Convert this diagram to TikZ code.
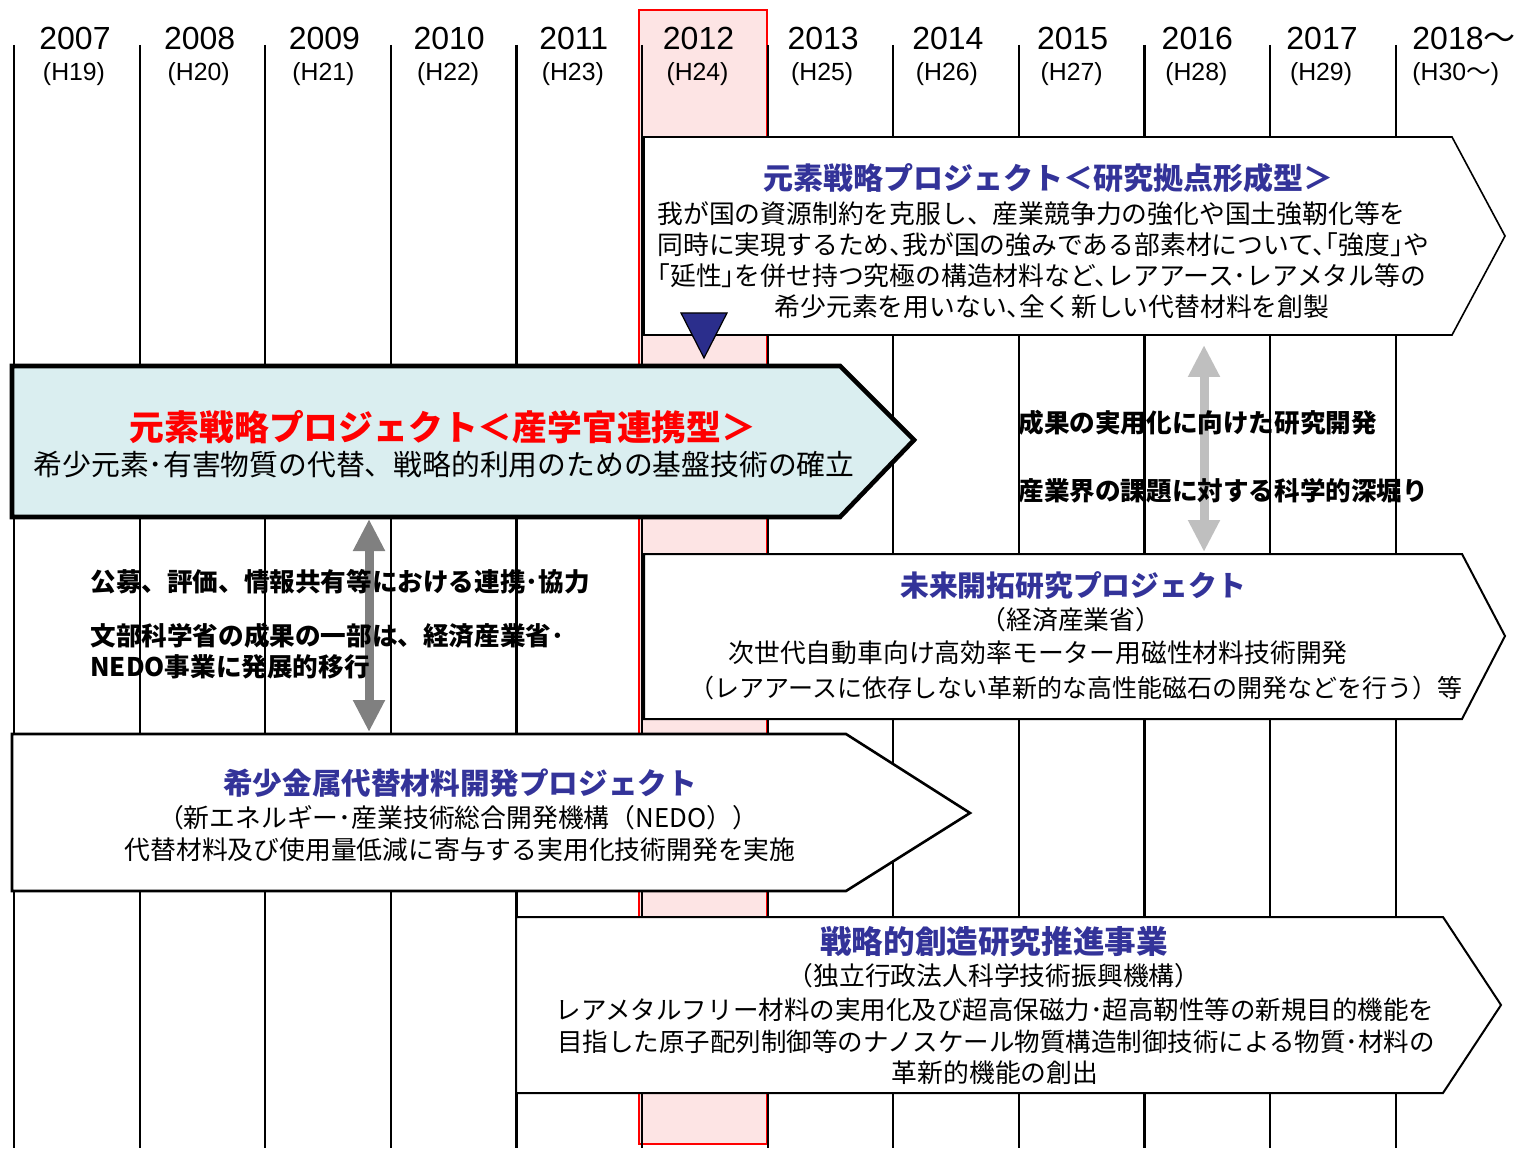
\documentclass[tikz,border=0pt]{standalone}
\usepackage{fontspec}
\setmainfont{Liberation Sans}
\newfontfamily\jp{Noto Sans CJK JP}
\newfontfamily\jph{Noto Sans CJK JP}[RawFeature=+halt]
\usetikzlibrary{arrows.meta}
\definecolor{ttlblue}{RGB}{51,51,153}
\definecolor{mainfill}{RGB}{218,238,240}
\definecolor{pinkfill}{RGB}{253,228,228}
\definecolor{navy}{RGB}{43,46,140}
\tikzset{
  every node/.style={inner sep=0pt},
  yr/.style={font=\fontsize{16}{18}\selectfont},
  hs/.style={font=\fontsize{12.4}{14}\selectfont},
  vline/.style={line width=1.1pt},
  pbox/.style={draw, fill=white, line width=0.8pt},
  ttl/.style={font=\jp\bfseries\fontsize{15}{18}\selectfont, text=ttlblue},
  txt/.style={font=\jp\fontsize{12.9}{15.5}\selectfont},
  btxt/.style={font=\jp\bfseries\fontsize{12.8}{15.5}\selectfont},
  darrow/.style={line width=4.5pt, {Triangle[width=15pt,length=16pt]}-{Triangle[width=15pt,length=16pt]}}
}
\begin{document}
\begin{tikzpicture}[x=0.5pt, y=-0.5pt]
\useasboundingbox (0,0) rectangle (1518,1154);
% 2012 column
\draw[red, line width=1pt, fill=pinkfill] (639,10) rectangle (767,1144);
% years
\foreach \n [count=\i from 0] in {2007,...,2017}{
  \pgfmathtruncatemacro{\h}{\n-1988}
  \node[yr] (Y_\i) at ({75+124.7*\i},38) {\n};
  \node[hs] (H_\i) at ({74+124.7*\i},74) {(H\h)};
}
\node[yr, anchor=west] (Y_11) at (1412,38) {2018{\jp ～}};
\node[hs, anchor=west] (H_11) at (1412,74) {(H30{\jp ～})};
\foreach \i in {0,...,11}
  \draw[vline] ({14+125.6*\i},45) -- ({14+125.6*\i},1148);

% research hub type
\draw[pbox] (644,137) -- (1452,137) -- (1505,236) -- (1452,335) -- (644,335) -- cycle;
\node[ttl] (T_1) at (1048,178) {元素戦略プロジェクト＜研究拠点形成型＞};
\node[txt, align=left, anchor=west] (B_1) at (657,245) {我が国の資源制約を克服し、産業競争力の強化や国土強靭化等を\\{\jph 同時に実現するため、我が国の強みである部素材について、「強度」や}\\{\jph 「延性」を併せ持つ究極の構造材料など、レアアース･レアメタル等の}};
\node[txt, font=\jph\fontsize{12.9}{15.5}\selectfont] (B_2) at (1052,307) {希少元素を用いない、全く新しい代替材料を創製};
\draw[fill=navy, line width=0.6pt] (681,313) -- (727,313) -- (704,358) -- cycle;

% industry-academia-government type
\draw[fill=mainfill, line width=2.3pt] (12,366) -- (840,366) -- (914,440) -- (840,517) -- (12,517) -- cycle;
\node[font=\jp\bfseries\fontsize{17.4}{20}\selectfont, text=red] (T_2) at (443,427) {元素戦略プロジェクト＜産学官連携型＞};
\node[font=\jp\fontsize{14.4}{17}\selectfont] (B_3) at (444,465) {希少元素･有害物質の代替、戦略的利用のための基盤技術の確立};

% METI
\draw[pbox, line width=1pt] (644,554) -- (1462,554) -- (1505,636) -- (1462,719) -- (644,719) -- cycle;
\node[ttl, font=\jp\bfseries\fontsize{14.4}{17}\selectfont] (T_3) at (1073,586) {未来開拓研究プロジェクト};
\node[txt] (B_4) at (1071,620) {（経済産業省）};
\node[txt] (B_5) at (1038,653) {次世代自動車向け高効率モーター用磁性材料技術開発};
\node[txt, font=\jp\fontsize{12.5}{15}\selectfont] (B_6) at (1076,688) {（レアアースに依存しない革新的な高性能磁石の開発などを行う）等};

% NEDO
\draw[pbox, line width=1.3pt] (12,734) -- (846,734) -- (970,813) -- (846,891) -- (12,891) -- cycle;
\node[ttl, font=\jp\bfseries\fontsize{14.8}{17}\selectfont] (T_4) at (460,783) {希少金属代替材料開発プロジェクト};
\node[txt] (B_7) at (458,818) {（新エネルギー･産業技術総合開発機構（NEDO））};
\node[txt] (B_8) at (460,850) {代替材料及び使用量低減に寄与する実用化技術開発を実施};

% JST
\draw[pbox, line width=1pt] (516,917) -- (1443,917) -- (1501,1005) -- (1443,1093) -- (516,1093) -- cycle;
\node[ttl, font=\jp\bfseries\fontsize{15.8}{18}\selectfont] (T_5) at (994,942) {戦略的創造研究推進事業};
\node[txt] (B_9) at (994,976) {（独立行政法人科学技術振興機構）};
\node[txt, font=\jp\fontsize{12.75}{15.5}\selectfont] (B_10) at (995,1010) {レアメタルフリー材料の実用化及び超高保磁力･超高靭性等の新規目的機能を};
\node[txt, font=\jp\fontsize{12.75}{15.5}\selectfont] (B_11) at (996,1042) {目指した原子配列制御等のナノスケール物質構造制御技術による物質･材料の};
\node[txt] (B_12) at (995,1073) {革新的機能の創出};

% links
\coordinate (A_1) at (369,519);
\coordinate (A_2) at (369,732);
\draw[darrow, gray] (A_1) -- (A_2);
\coordinate (A_3) at (1204,345);
\coordinate (A_4) at (1204,552);
\draw[darrow, black!25] (A_3) -- (A_4);
\node[btxt, anchor=west] (L_1) at (90,582) {公募、評価、情報共有等における連携･協力};
\node[btxt, anchor=west, align=left] (L_2) at (90,651.5) {文部科学省の成果の一部は、経済産業省･\\NEDO事業に発展的移行};
\node[btxt, anchor=west] (R_1) at (1018,423) {成果の実用化に向けた研究開発};
\node[btxt, anchor=west] (R_2) at (1018,491) {産業界の課題に対する科学的深堀り};
\end{tikzpicture}
\end{document}
